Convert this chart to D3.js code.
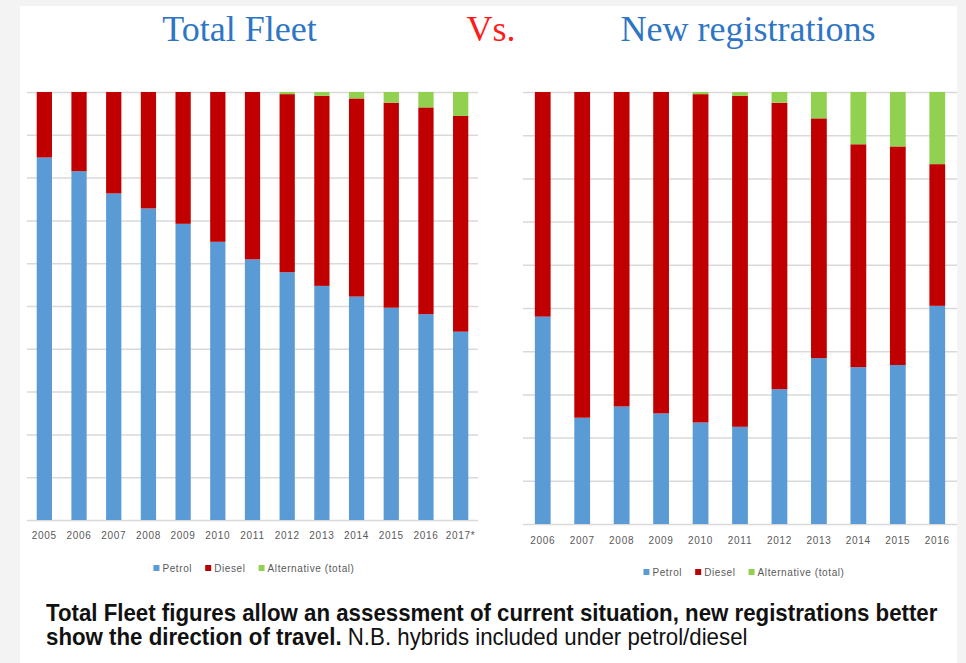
<!DOCTYPE html>
<html>
<head>
<meta charset="utf-8">
<script src="https://cdn.jsdelivr.net/npm/d3@7"></script>
<style>
  html, body { margin: 0; padding: 0; background: #f3f3f3; }
  svg { display: block; }
  .grid line { stroke: #d9d9d9; stroke-width: 1.5; }
  .grid .domain { display: none; }
  .tick-lab { font-family: "Liberation Sans", Arial, sans-serif; font-size: 10px; fill: #595959; letter-spacing: 0.7px; }
  .leg-lab { font-family: "Liberation Sans", Arial, sans-serif; font-size: 10px; fill: #595959; letter-spacing: 0.6px; }
  .title { font-family: "Liberation Serif", "Times New Roman", serif; font-size: 36px; }
  .note { font-family: "Liberation Sans", Arial, sans-serif; font-size: 23px; fill: #111; }
</style>
</head>
<body>
<svg id="chart" width="966" height="663"></svg>
<script>
(function () {
  "use strict";
  // --- data (shares in %) ---
  var fleetYears = ["2005", "2006", "2007", "2008", "2009", "2010", "2011", "2012", "2013", "2014", "2015", "2016", "2017*"];
  var fleetPetrol = [84.7, 81.5, 76.3, 72.8, 69.2, 65.0, 60.9, 57.9, 54.7, 52.2, 49.6, 48.1, 44.0];
  var fleetDiesel = [15.3, 18.5, 23.7, 27.2, 30.8, 35.0, 39.1, 41.6, 44.4, 46.3, 47.9, 48.3, 50.4];
  var fleetAlt = [0, 0, 0, 0, 0, 0, 0, 0.5, 0.9, 1.5, 2.5, 3.6, 5.6];

  var regYears = ["2006", "2007", "2008", "2009", "2010", "2011", "2012", "2013", "2014", "2015", "2016"];
  var regPetrol = [48.0, 24.6, 27.2, 25.6, 23.5, 22.5, 31.2, 38.4, 36.3, 36.8, 50.5];
  var regDiesel = [52.0, 75.4, 72.8, 74.4, 76.0, 76.6, 66.3, 55.5, 51.6, 50.6, 32.8];
  var regAlt = [0, 0, 0, 0, 0.5, 0.9, 2.5, 6.1, 12.1, 12.6, 16.7];

  var seriesNames = ["Petrol", "Diesel", "Alternative (total)"];
  var COLORS = ["#5b9bd5", "#c00000", "#92d050"];
  var gridTicks = [0, 10, 20, 30, 40, 50, 60, 70, 80, 90, 100];

  var svg = d3.select("#chart");
  svg.append("rect").attr("x", 20).attr("y", 6).attr("width", 937).attr("height", 657).attr("fill", "#fff");

  function panel(cfg) {
    var x = d3.scaleBand().domain(cfg.years).range([cfg.x0, cfg.x1]).paddingInner(cfg.pad).paddingOuter(cfg.pad / 2);
    var y = d3.scaleLinear().domain([0, 100]).range([cfg.yb, cfg.yt]);
    var g = svg.append("g");

    // gridlines only, no tick labels
    g.append("g").attr("class", "grid").attr("transform", "translate(" + cfg.x0 + ",0)")
      .call(d3.axisRight(y).tickValues(gridTicks).tickSize(cfg.x1 - cfg.x0).tickFormat(""));

    var rows = cfg.years.map(function (yr, i) {
      return { year: yr, Petrol: cfg.petrol[i], Diesel: cfg.diesel[i], "Alternative (total)": cfg.alt[i] };
    });
    var stack = d3.stack().keys(seriesNames)(rows);
    g.selectAll("g.layer").data(stack).enter().append("g").attr("class", "layer")
      .attr("fill", function (d, i) { return COLORS[i]; })
      .selectAll("rect").data(function (d) { return d; }).enter().append("rect")
      .attr("x", function (d) { return x(d.data.year); })
      .attr("width", x.bandwidth())
      .attr("y", function (d) { return y(d[1]); })
      .attr("height", function (d) { return Math.max(0, y(d[0]) - y(d[1])); });

    // category labels
    g.selectAll("text.tick-lab").data(cfg.years).enter().append("text").attr("class", "tick-lab")
      .attr("x", function (d) { return x(d) + x.bandwidth() / 2; })
      .attr("y", cfg.labY).attr("text-anchor", "middle").text(function (d) { return d; });

    // legend
    var lg = g.append("g"), cx = 0;
    seriesNames.forEach(function (n, i) {
      lg.append("rect").attr("x", cx).attr("y", -3).attr("width", 6).attr("height", 6).attr("fill", COLORS[i]);
      var t = lg.append("text").attr("class", "leg-lab").attr("x", cx + 9).attr("y", 3.5).text(n);
      cx += 9 + t.node().getComputedTextLength() + 13;
    });
    var lw = cx - 13;
    lg.attr("transform", "translate(" + (cfg.legCx - lw / 2) + "," + cfg.legY + ")");
  }

  panel({ years: fleetYears, petrol: fleetPetrol, diesel: fleetDiesel, alt: fleetAlt,
    x0: 27, x1: 478, yt: 92, yb: 520, pad: 0.56, labY: 539, legY: 568, legCx: 254 });
  panel({ years: regYears, petrol: regPetrol, diesel: regDiesel, alt: regAlt,
    x0: 523, x1: 957, yt: 92, yb: 524, pad: 0.6, labY: 544, legY: 572, legCx: 744 });

  // titles
  svg.append("text").attr("class", "title").attr("x", 239.5).attr("y", 41).attr("text-anchor", "middle").attr("fill", "#2f75c5").text("Total Fleet");
  svg.append("text").attr("class", "title").attr("x", 491).attr("y", 41).attr("text-anchor", "middle").attr("fill", "#ff1a1a").text("Vs.");
  svg.append("text").attr("class", "title").attr("x", 748).attr("y", 41).attr("text-anchor", "middle").attr("fill", "#2f75c5").text("New registrations");

  // footnote (condensed look: scale horizontally)
  var note = svg.append("g");
  var l1 = note.append("text").attr("class", "note").attr("x", 0).attr("y", 621).attr("font-weight", "bold")
    .text("Total Fleet figures allow an assessment of current situation, new registrations better");
  var l2 = note.append("text").attr("class", "note").attr("x", 0).attr("y", 645);
  l2.append("tspan").attr("font-weight", "bold").text("show the direction of travel.");
  l2.append("tspan").text(" N.B. hybrids included under petrol/diesel");
  var sx = 892 / l1.node().getComputedTextLength();
  note.attr("transform", "translate(46,0) scale(" + sx + ",1)");
})();
</script>
</body>
</html>
